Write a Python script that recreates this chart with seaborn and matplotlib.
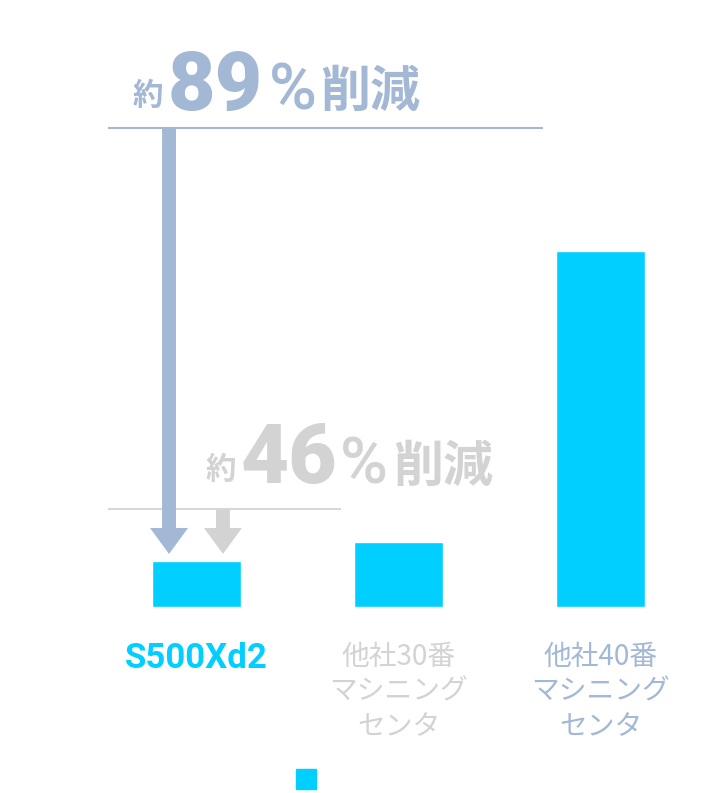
import matplotlib
matplotlib.use("Agg")
import matplotlib.pyplot as plt
from matplotlib.patches import Patch
import seaborn as sns
import pandas as pd

# --- data (relative running cost) ---
machines = ["S500Xd2", "他社30番\nマシニング\nセンタ", "他社40番\nマシニング\nセンタ"]
values = [12.9, 18.3, 100.0]
label_colors = ["#00cfff", "#d3d3d3", "#a3b8d4"]

# annotation levels (same units as values)
level_89 = 134.5
level_46 = 27.5
arrow_tip = 14.9

BAR = "#00cfff"
BLUEGRAY = "#a3b8d4"
GRAY = "#d3d3d3"
W, H = 718, 793

sns.set_theme(style="white")
plt.rcParams["font.family"] = ["Noto Sans CJK JP", "DejaVu Sans"]

df = pd.DataFrame({"machine": machines, "value": values})

fig = plt.figure(figsize=(W / 100, H / 100), dpi=100)
ax = fig.add_axes([95.5 / W, (H - 607) / H, 606 / W, 607 / H])
sns.barplot(data=df, x="machine", y="value", color=BAR, width=0.44,
            saturation=1, ax=ax)
ax.set_xlim(-0.5, 2.5)
ax.set_ylim(0, 170.5)
ax.set_xlabel("")
ax.set_ylabel("")
ax.set_yticks([])
sns.despine(ax=ax, left=True, bottom=True)
ax.tick_params(axis="x", length=0, pad=25)
ax.set_xticks(range(len(machines)))
ax.set_xticklabels(machines)
for i, t in enumerate(ax.get_xticklabels()):
    t.set_color(label_colors[i])
    if i == 0:
        t.set_fontfamily(["Roboto", "DejaVu Sans"])
        t.set_fontweight("bold")
        t.set_fontsize(25)
    else:
        t.set_fontsize(20)
        t.set_linespacing(1.22)

# reduction lines
ax.plot([-0.438, 1.715], [level_89, level_89], color=BLUEGRAY, lw=1.5,
        solid_capstyle="butt")
ax.plot([-0.438, 0.715], [level_46, level_46], color=GRAY, lw=1.3,
        solid_capstyle="butt")

# arrows down to the S500Xd2 bar
style = "simple,tail_width=1.0,head_width=2.74,head_length=1.87"
ax.annotate("", xy=(-0.136, arrow_tip), xytext=(-0.136, level_89),
            arrowprops=dict(arrowstyle=style, mutation_scale=10, color=BLUEGRAY,
                            shrinkA=0, shrinkB=0, lw=0))
ax.annotate("", xy=(0.131, arrow_tip), xytext=(0.131, level_46),
            arrowprops=dict(arrowstyle=style, mutation_scale=10, color=GRAY,
                            shrinkA=0, shrinkB=0, lw=0))


def put(x, y, s, size, color, family=None, weight="bold"):
    kw = {}
    if family:
        kw["family"] = family
    fig.text(x / W, 1 - y / H, s, fontsize=size, color=color, weight=weight,
             ha="left", va="baseline", **kw)


digits = ["Roboto", "DejaVu Sans"]
# 約89%削減
put(133, 105, "約", 22, BLUEGRAY)
put(168, 110, "89", 59, BLUEGRAY, family=digits, weight="black")
put(269, 110, "%", 47, BLUEGRAY, family=digits, weight="medium")
put(320, 107, "削減", 36, BLUEGRAY)
# 約46%削減
put(206, 479, "約", 22, GRAY)
put(241, 483, "46", 60, GRAY, family=digits, weight="black")
put(340, 484, "%", 47, GRAY, family=digits, weight="medium")
put(393, 482, "削減", 36, GRAY)

ax.legend(handles=[Patch(color=BAR)], labels=[""], loc="center",
          bbox_to_anchor=(306 / W, 1 - 780 / H), bbox_transform=fig.transFigure,
          frameon=False, handlelength=0.9, handleheight=1, fontsize=16,
          borderpad=0, handletextpad=0, borderaxespad=0)

fig.savefig("out.png", dpi=100)
